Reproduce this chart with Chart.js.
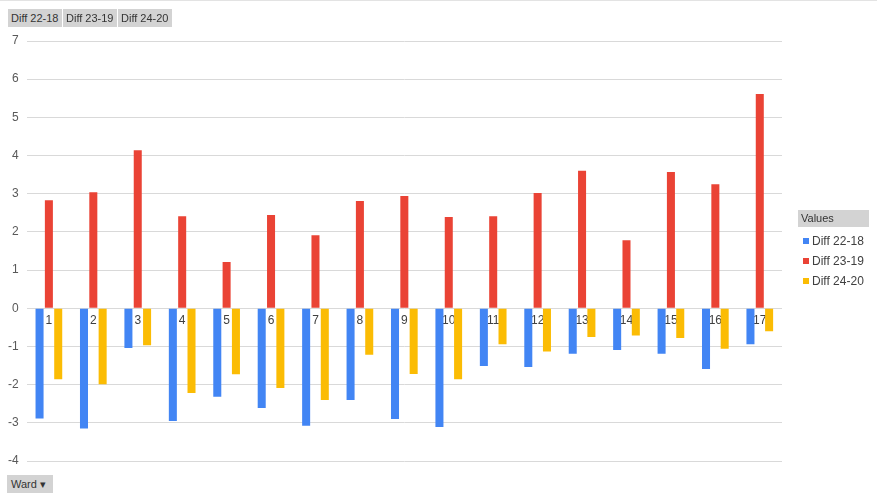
<!DOCTYPE html>
<html>
<head>
<meta charset="utf-8">
<script src="https://cdn.jsdelivr.net/npm/chart.js@4"></script>
<style>
    body { margin: 0; background: #fff; font-family: "Liberation Sans", Arial, sans-serif; }
    #wrap { position: relative; width: 877px; height: 496px; border-top: 1px solid #e3e3e3; box-sizing: border-box; }
    canvas { position: absolute; left: 0; top: 0; }
    .btn { position: absolute; height: 18px; line-height: 18px; background: #d3d3d3; color: #333; font-size: 11px; padding: 0 0 0 3px; box-sizing: border-box; white-space: nowrap; overflow: hidden; }
    #leyenda { position: absolute; left: 798px; top: 209px; width: 71px; font-size: 12px; color: #404040; }
    #leyenda .titulo { background: #d3d3d3; color: #333; font-size: 11px; height: 17px; line-height: 17px; padding-left: 3px; margin-bottom: 4px; }
    #leyenda .item { height: 20px; line-height: 20px; white-space: nowrap; padding-left: 5px; }
    #leyenda .caja { display: inline-block; width: 6px; height: 6px; margin-right: 3px; vertical-align: 1px; }
</style>
</head>
<body>
<div id="wrap">
    <canvas id="chart" width="877" height="495"></canvas>
    <div class="btn" style="left: 8px; top: 8px; width: 54px;">Diff 22-18</div>
    <div class="btn" style="left: 63px; top: 8px; width: 54px;">Diff 23-19</div>
    <div class="btn" style="left: 118px; top: 8px; width: 54px;">Diff 24-20</div>
    <div class="btn" style="left: 7px; top: 474px; width: 46px; padding-left: 4px;">Ward &#9662;</div>
    <div id="leyenda"><div class="titulo">Values</div><div id="items"></div></div>
</div>
<script>
const wards = ['1', '2', '3', '4', '5', '6', '7', '8', '9', '10', '11', '12', '13', '14', '15', '16', '17'];
const diff2218 = [-2.89, -3.15, -1.04, -2.95, -2.32, -2.61, -3.08, -2.40, -2.90, -3.11, -1.51, -1.54, -1.19, -1.09, -1.19, -1.59, -0.94];
const diff2319 = [2.83, 3.04, 4.14, 2.41, 1.21, 2.44, 1.91, 2.81, 2.94, 2.39, 2.41, 3.02, 3.60, 1.78, 3.57, 3.25, 5.61];
const diff2420 = [-1.86, -1.99, -0.97, -2.22, -1.73, -2.09, -2.40, -1.22, -1.72, -1.86, -0.94, -1.13, -0.75, -0.71, -0.78, -1.06, -0.60];

// leyenda en HTML generada desde los datasets
const leyendaHtml = {
    id: 'leyendaHtml',
    afterUpdate(chart) {
        const cont = document.getElementById('items');
        const items = chart.options.plugins.legend.labels.generateLabels(chart);
        cont.innerHTML = items.map(it => `
            <div class="item"><span class="caja" style="background: ${it.fillStyle};"></span>${it.text}</div>
        `).join('');
    }
};

new Chart(document.getElementById('chart').getContext('2d'), {
    type: 'bar',
    data: {
        labels: wards,
        datasets: [
            { label: 'Diff 22-18', data: diff2218, backgroundColor: '#4285f4' },
            { label: 'Diff 23-19', data: diff2319, backgroundColor: '#ea4335' },
            { label: 'Diff 24-20', data: diff2420, backgroundColor: '#fbbc04' }
        ]
    },
    options: {
        responsive: false,
        animation: false,
        datasets: { bar: { categoryPercentage: 0.63, barPercentage: 0.86 } },
        layout: { padding: { top: 40, bottom: 35, left: 0, right: 95 } },
        plugins: {
            legend: { display: false },
            tooltip: { enabled: false }
        },
        scales: {
            x: {
                position: { y: 0 },
                grid: { display: false, drawTicks: false },
                border: { display: false },
                ticks: {
                    color: '#404040',
                    padding: 5,
                    maxRotation: 0,
                    font: { family: '"Liberation Sans", Arial, sans-serif', size: 12 }
                }
            },
            y: {
                min: -4,
                max: 7,
                ticks: {
                    stepSize: 1,
                    color: '#595959',
                    padding: 8,
                    font: { family: '"Liberation Sans", Arial, sans-serif', size: 12 }
                },
                grid: { color: '#d9d9d9', drawTicks: false },
                border: { display: false }
            }
        }
    },
    plugins: [leyendaHtml]
});
</script>
</body>
</html>
